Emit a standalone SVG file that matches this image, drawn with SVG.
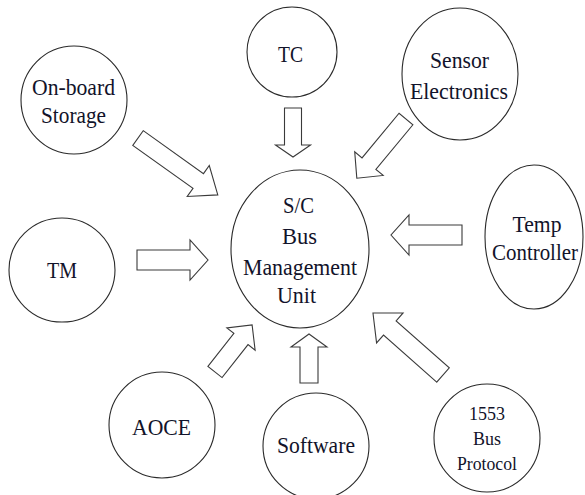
<svg xmlns="http://www.w3.org/2000/svg" width="585" height="495" viewBox="0 0 585 495">
  <style>
    .node { fill: #ffffff; stroke: #2a2a2a; stroke-width: 1.1; }
    .arrow { fill: #ffffff; stroke: #3a3a3a; stroke-width: 1.1; stroke-linejoin: miter; }
    .label { font-family: 'Liberation Serif', 'Times New Roman', serif; font-size: 24px; fill: #12132a; text-anchor: middle; }
    .small { font-size: 18px; }
  </style>
  <rect width="585" height="495" fill="#ffffff"/>

  <!-- block arrows: each drawn pointing along +x from its tail, then placed -->
  <g id="connectors">
    <polygon class="arrow" transform="translate(293,108) rotate(90)" points="0,-8.5 37,-8.5 37,-17.5 49,0 37,17.5 37,8.5 0,8.5"/>
    <polygon class="arrow" transform="translate(138,138) rotate(35.5)" points="0,-9 74,-9 74,-19 98,0 74,19 74,9 0,9"/>
    <polygon class="arrow" transform="translate(406,119) rotate(129.7)" points="0,-9 58,-9 58,-18.5 77,0 58,18.5 58,9 0,9"/>
    <polygon class="arrow" transform="translate(462,235) rotate(180)" points="0,-10 53,-10 53,-20 71,0 53,20 53,10 0,10"/>
    <polygon class="arrow" transform="translate(137,260)" points="0,-10 53,-10 53,-20 71,0 53,20 53,10 0,10"/>
    <polygon class="arrow" transform="translate(215,372) rotate(-51.8)" points="0,-9 42,-9 42,-18 60,0 42,18 42,9 0,9"/>
    <polygon class="arrow" transform="translate(309,383) rotate(-90)" points="0,-9 36,-9 36,-18 49,0 36,18 36,9 0,9"/>
    <polygon class="arrow" transform="translate(443,375) rotate(-138.5)" points="0,-9.5 71,-9.5 71,-20 93.5,0 71,20 71,9.5 0,9.5"/>
  </g>

  <g id="bus-management-unit">
    <ellipse class="node" cx="300" cy="249" rx="69" ry="79"/>
    <text class="label" x="298.5" y="213" textLength="31" lengthAdjust="spacingAndGlyphs">S/C</text>
    <text class="label" x="299.5" y="244" textLength="35" lengthAdjust="spacingAndGlyphs">Bus</text>
    <text class="label" x="300" y="275" textLength="114" lengthAdjust="spacingAndGlyphs">Management</text>
    <text class="label" x="296.5" y="303" textLength="39" lengthAdjust="spacingAndGlyphs">Unit</text>
  </g>

  <g id="tc">
    <ellipse class="node" cx="292" cy="52" rx="45" ry="45"/>
    <text class="label" x="290.5" y="62" textLength="25" lengthAdjust="spacingAndGlyphs">TC</text>
  </g>

  <g id="sensor-electronics">
    <ellipse class="node" cx="460" cy="74" rx="58" ry="66"/>
    <text class="label" x="459.5" y="68" textLength="59" lengthAdjust="spacingAndGlyphs">Sensor</text>
    <text class="label" x="459" y="99" textLength="98" lengthAdjust="spacingAndGlyphs">Electronics</text>
  </g>

  <g id="on-board-storage">
    <ellipse class="node" cx="74" cy="100" rx="53" ry="54"/>
    <text class="label" x="73.5" y="95" textLength="83" lengthAdjust="spacingAndGlyphs">On-board</text>
    <text class="label" x="73.5" y="123" textLength="65" lengthAdjust="spacingAndGlyphs">Storage</text>
  </g>

  <g id="tm">
    <ellipse class="node" cx="62" cy="270" rx="53" ry="52"/>
    <text class="label" x="62" y="278" textLength="30" lengthAdjust="spacingAndGlyphs">TM</text>
  </g>

  <g id="temp-controller">
    <ellipse class="node" cx="534" cy="237" rx="49" ry="72"/>
    <text class="label" x="537" y="232" textLength="49" lengthAdjust="spacingAndGlyphs">Temp</text>
    <text class="label" x="535" y="260" textLength="86" lengthAdjust="spacingAndGlyphs">Controller</text>
  </g>

  <g id="aoce">
    <ellipse class="node" cx="162" cy="425" rx="53" ry="53"/>
    <text class="label" x="161.5" y="435" textLength="59" lengthAdjust="spacingAndGlyphs">AOCE</text>
  </g>

  <g id="software">
    <ellipse class="node" cx="316" cy="446" rx="53" ry="53"/>
    <text class="label" x="316" y="453" textLength="78" lengthAdjust="spacingAndGlyphs">Software</text>
  </g>

  <g id="bus-protocol-1553">
    <ellipse class="node" cx="487" cy="438" rx="53" ry="54"/>
    <text class="label small" x="487" y="420" textLength="36" lengthAdjust="spacingAndGlyphs">1553</text>
    <text class="label small" x="487" y="445" textLength="28" lengthAdjust="spacingAndGlyphs">Bus</text>
    <text class="label small" x="487" y="470" textLength="60" lengthAdjust="spacingAndGlyphs">Protocol</text>
  </g>
</svg>
